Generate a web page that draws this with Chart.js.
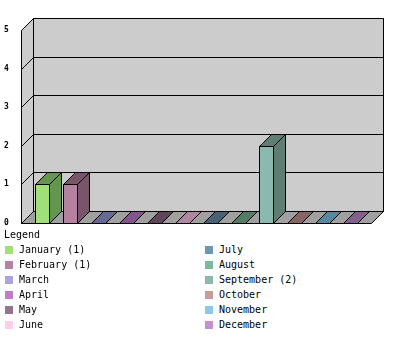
<!DOCTYPE html>
<html>
<head>
<meta charset="utf-8">
<script src="https://cdn.jsdelivr.net/npm/chart.js@4"></script>
<style>
  body { margin: 0; background: #fff; width: 400px; height: 350px; overflow: hidden; position: relative; }
  #chart { position: absolute; left: 0; top: 0; }
  .legend { position: absolute; left: 0; top: 0; font: 10px "DejaVu Sans Mono", monospace; color: #000; }
  .legend div { position: absolute; white-space: nowrap; line-height: 12px; }
  .legend span.sw { position: absolute; width: 8px; height: 8px; }
</style>
</head>
<body>
<canvas id="chart" width="400" height="230"></canvas>
<div class="legend" id="legend"></div>
<script>
// data
const months = ['January', 'February', 'March', 'April', 'May', 'June',
                'July', 'August', 'September', 'October', 'November', 'December'];
const counts = [1, 1, 0, 0, 0, 0, 0, 0, 2, 0, 0, 0];
const yTicks = [0, 1, 2, 3, 4, 5];

// front face colours and the darker shade used for top / side / floor strips
const faceColors = ['#a0e078', '#b482a0', '#aaa5dc', '#be7dc8', '#967391', '#ffcdeb',
                    '#6e96af', '#7db99b', '#8cb9af', '#c89b9b', '#8cc8eb', '#c391d2'];
const shadeColors = ['#649650', '#785569', '#696996', '#82558c', '#5f465a', '#af87a0',
                     '#466473', '#507d64', '#5f7d73', '#876464', '#5a87a0', '#825f8c'];

const DEPTH = 12;
const PAD = 7;

function poly(ctx, pts, fill) {
    ctx.beginPath();
    ctx.moveTo(pts[0][0], pts[0][1]);
    for (let i = 1; i < pts.length; i++) ctx.lineTo(pts[i][0], pts[i][1]);
    ctx.closePath();
    if (fill) { ctx.fillStyle = fill; ctx.fill(); }
    ctx.strokeStyle = '#000';
    ctx.lineWidth = 1;
    ctx.stroke();
}

const pseudo3d = {
    id: 'pseudo3d',
    beforeDatasetsDraw(chart) {
        const ctx = chart.ctx;
        const a = chart.chartArea;
        const y = chart.scales.y;
        const L = a.left - PAD + 0.5, R = a.right + PAD + 0.5;
        const y0 = Math.round(y.getPixelForValue(0)) + 0.5;
        const yT = Math.round(y.getPixelForValue(yTicks[yTicks.length - 1])) + 0.5;
        ctx.save();
        // walls and floor
        poly(ctx, [[L, y0], [L, yT], [L + DEPTH, yT - DEPTH], [L + DEPTH, y0 - DEPTH]], '#cccccc');
        poly(ctx, [[L + DEPTH, yT - DEPTH], [R + DEPTH, yT - DEPTH], [R + DEPTH, y0 - DEPTH], [L + DEPTH, y0 - DEPTH]], '#cccccc');
        poly(ctx, [[L, y0], [L + DEPTH, y0 - DEPTH], [R + DEPTH, y0 - DEPTH], [R, y0]], '#a0a0a0');
        // grid lines
        ctx.strokeStyle = '#000';
        yTicks.forEach(t => {
            const yy = Math.round(y.getPixelForValue(t)) + 0.5;
            ctx.beginPath();
            ctx.moveTo(L, yy);
            ctx.lineTo(L + DEPTH, yy - DEPTH);
            ctx.lineTo(R + DEPTH, yy - DEPTH);
            ctx.stroke();
        });
        // tick labels
        ctx.fillStyle = '#000';
        ctx.font = 'bold 8px "DejaVu Sans Mono"';
        ctx.textBaseline = 'middle';
        ctx.textAlign = 'left';
        yTicks.forEach(t => {
            ctx.fillText(String(t), 4, Math.round(y.getPixelForValue(t)));
        });
        ctx.restore();
    },
    afterDatasetsDraw(chart) {
        const ctx = chart.ctx;
        const meta = chart.getDatasetMeta(0);
        ctx.save();
        meta.data.forEach((bar, i) => {
            const p = bar.getProps(['x', 'y', 'base', 'width'], true);
            const x0 = Math.round(p.x - p.width / 2) + 0.5;
            const x1 = x0 + Math.round(p.width);
            const yb = Math.round(p.base) + 0.5;
            const yt = Math.round(p.y) + 0.5;
            if (yb - yt < 1) {
                // empty month: strip lying on the floor
                poly(ctx, [[x0, yb], [x1, yb], [x1 + DEPTH, yb - DEPTH], [x0 + DEPTH, yb - DEPTH]], shadeColors[i]);
                return;
            }
            poly(ctx, [[x1, yb], [x1, yt], [x1 + DEPTH, yt - DEPTH], [x1 + DEPTH, yb - DEPTH]], shadeColors[i]);
            poly(ctx, [[x0, yt], [x1, yt], [x1 + DEPTH, yt - DEPTH], [x0 + DEPTH, yt - DEPTH]], shadeColors[i]);
            poly(ctx, [[x0, yb], [x0, yt], [x1, yt], [x1, yb]], faceColors[i]);
        });
        ctx.restore();
    }
};

new Chart(document.getElementById('chart'), {
    type: 'bar',
    data: {
        labels: months,
        datasets: [{
            data: counts,
            backgroundColor: faceColors,
            borderWidth: 0,
            categoryPercentage: 1,
            barPercentage: 0.5
        }]
    },
    options: {
        responsive: false,
        animation: false,
        layout: { padding: { left: 28, right: 36, top: 30, bottom: 7 } },
        plugins: { legend: { display: false }, tooltip: { enabled: false } },
        scales: {
            x: { display: false, offset: true },
            y: { display: false, min: 0, max: 5 }
        }
    },
    plugins: [pseudo3d]
});

// legend below the chart
const legendEl = document.getElementById('legend');
const title = document.createElement('div');
title.textContent = 'Legend';
title.style.left = '4px';
title.style.top = '229px';
legendEl.appendChild(title);
months.forEach((m, i) => {
    const col = i < 6 ? 0 : 1;
    const row = i % 6;
    const left = col === 0 ? 5 : 205;
    const cy = 250 + row * 15;
    const sw = document.createElement('span');
    sw.className = 'sw';
    sw.style.left = left + 'px';
    sw.style.top = (cy - 4) + 'px';
    sw.style.background = faceColors[i];
    legendEl.appendChild(sw);
    const t = document.createElement('div');
    t.textContent = counts[i] > 0 ? m + ' (' + counts[i] + ')' : m;
    t.style.left = (left + 14) + 'px';
    t.style.top = (cy - 6) + 'px';
    legendEl.appendChild(t);
});
</script>
</body>
</html>
